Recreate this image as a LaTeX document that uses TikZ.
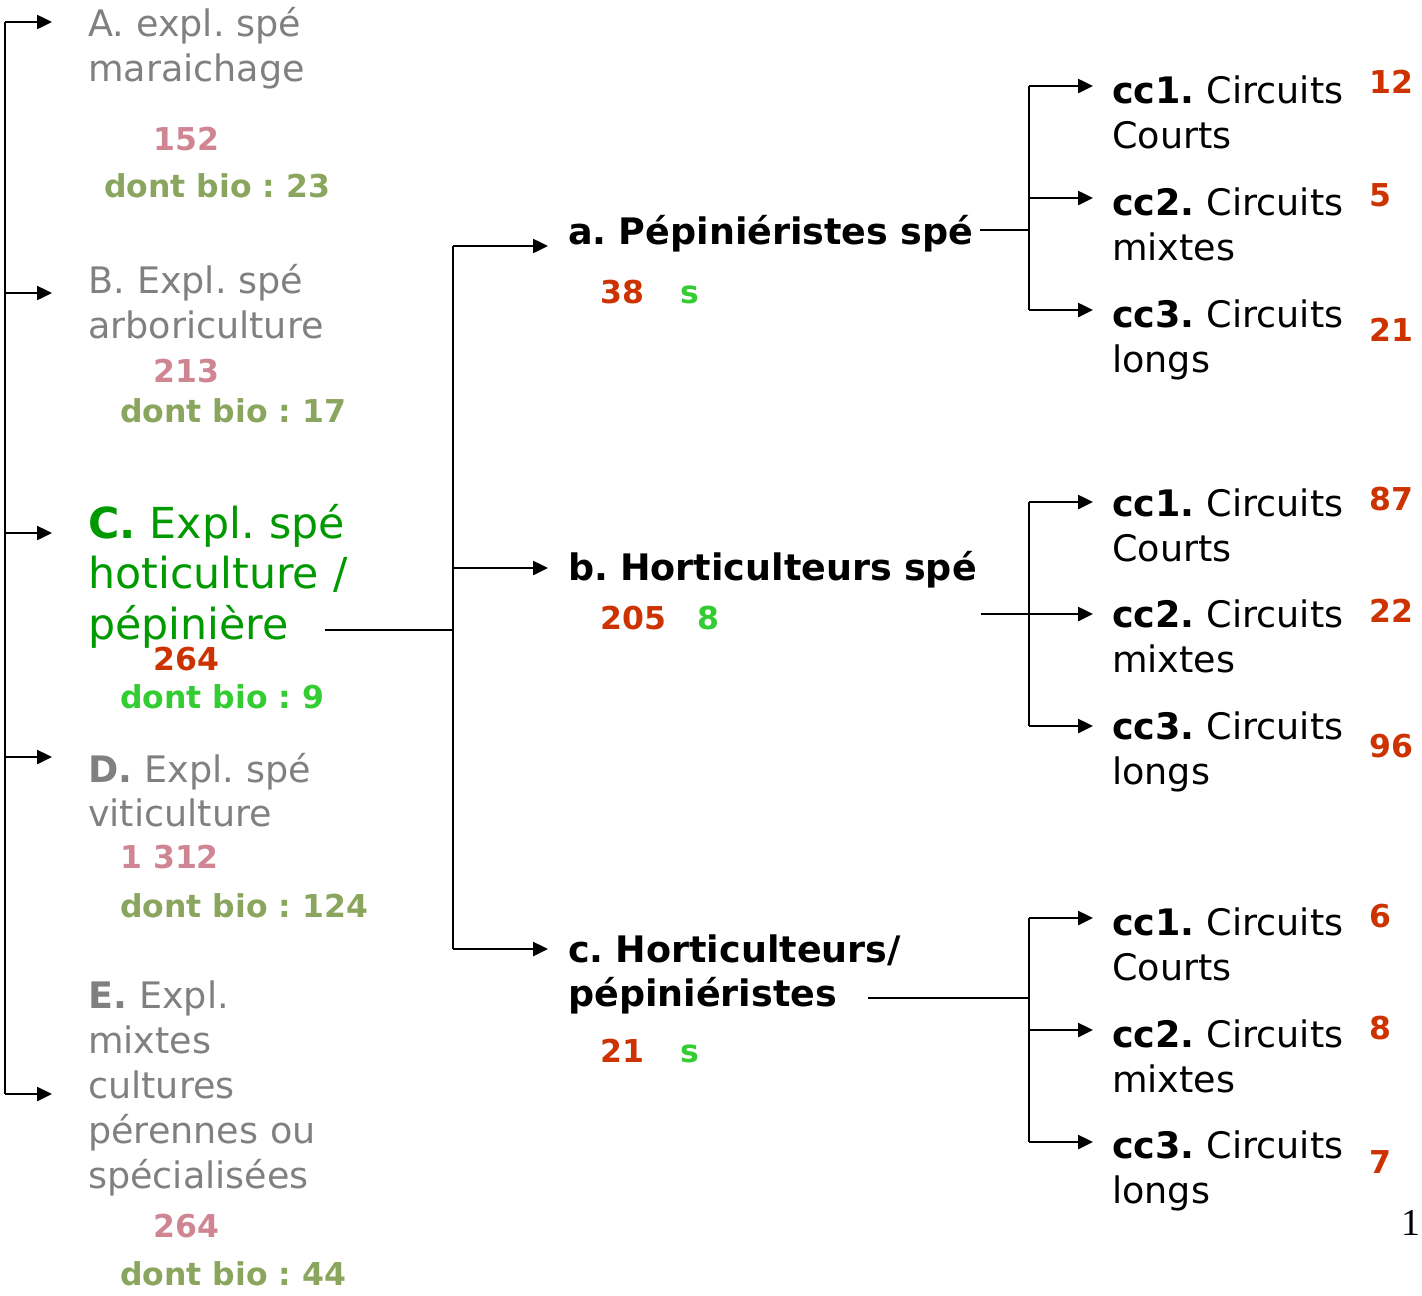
\documentclass[tikz,border=0pt]{standalone}
\usepackage{fontspec}
\setmainfont{DejaVu Sans}
\newfontfamily\numpage{Liberation Serif}
\usetikzlibrary{arrows.meta}
\frenchspacing

\definecolor{gris}{RGB}{128,128,128}
\definecolor{rose}{RGB}{208,134,146}
\definecolor{olive}{RGB}{138,166,94}
\definecolor{vertC}{RGB}{0,153,0}
\definecolor{vertbio}{RGB}{51,204,51}
\definecolor{rouge}{RGB}{204,51,0}

\tikzset{
  texte/.style={anchor=base west, inner sep=0pt, text width=420pt, align=left,
    font=\fontsize{36.5}{45}\selectfont},
  chiffre/.style={anchor=base west, inner sep=0pt, font=\fontsize{31.5}{38}\selectfont\bfseries},
  trait/.style={line width=2.5pt},
  fleche/.style={trait, -{Triangle[length=15pt,width=14pt]}}
}

\begin{document}
\begin{tikzpicture}[x=1pt, y=-1pt]
  \useasboundingbox (0,0) rectangle (1422,1296);

  % Dibujar los textos de la izquierda
  \node[texte, gris] (A) at (88,36) {A. expl. spé\\maraichage};
  \node[chiffre, rose] (nA) at (153,150) {152};
  \node[chiffre, olive] (bA) at (104,197) {dont bio : 23};

  \node[texte, gris] (B) at (88,293) {B. Expl. spé\\arboriculture};
  \node[chiffre, rose] (nB) at (153,382) {213};
  \node[chiffre, olive] (bB) at (120,422) {dont bio : 17};

  \node[texte, vertC, font=\fontsize{42.7}{50.5}\selectfont] (C) at (88,538)
    {\textbf{C.} Expl. spé\\hoticulture /\\pépinière};
  \node[chiffre, rouge] (nC) at (153,670) {264};
  \node[chiffre, vertbio] (bC) at (120,708) {dont bio : 9};

  \node[texte, gris, font=\fontsize{36.5}{44}\selectfont] (D) at (88,782) {\textbf{D.} Expl. spé\\viticulture};
  \node[chiffre, rose] (nD) at (120,868) {1 312};
  \node[chiffre, olive] (bD) at (120,917) {dont bio : 124};

  \node[texte, gris] (E) at (88,1008) {\textbf{E.} Expl.\\mixtes\\cultures\\pérennes ou\\spécialisées};
  \node[chiffre, rose] (nE) at (153,1237) {264};
  \node[chiffre, olive] (bE) at (120,1285) {dont bio : 44};

  % Dibujar los textos del centro
  \node[texte, font=\fontsize{36.5}{45}\selectfont\bfseries] (a) at (568,244) {a. Pépiniéristes spé};
  \node[chiffre, rouge] (na) at (600,303) {38};
  \node[chiffre, vertbio] (sa) at (680,303) {s};

  \node[texte, font=\fontsize{36.5}{45}\selectfont\bfseries] (b) at (568,580) {b. Horticulteurs spé};
  \node[chiffre, rouge] (nb) at (600,629) {205};
  \node[chiffre, vertbio] (sb) at (697,629) {8};

  \node[texte, font=\fontsize{36.5}{44}\selectfont\bfseries] (c) at (568,962) {c. Horticulteurs/\\pépiniéristes};
  \node[chiffre, rouge] (nc) at (600,1062) {21};
  \node[chiffre, vertbio] (sc) at (680,1062) {s};

  % Dibujar los circuitos de la derecha
  \node[texte] (ra1) at (1112,103) {\textbf{cc1.} Circuits\\Courts};
  \node[texte] (ra2) at (1112,215) {\textbf{cc2.} Circuits\\mixtes};
  \node[texte] (ra3) at (1112,327) {\textbf{cc3.} Circuits\\longs};
  \node[chiffre, rouge] (na1) at (1369,93) {12};
  \node[chiffre, rouge] (na2) at (1369,206) {5};
  \node[chiffre, rouge] (na3) at (1369,341) {21};

  \node[texte] (rb1) at (1112,516) {\textbf{cc1.} Circuits\\Courts};
  \node[texte] (rb2) at (1112,627) {\textbf{cc2.} Circuits\\mixtes};
  \node[texte] (rb3) at (1112,739) {\textbf{cc3.} Circuits\\longs};
  \node[chiffre, rouge] (nb1) at (1369,510) {87};
  \node[chiffre, rouge] (nb2) at (1369,622) {22};
  \node[chiffre, rouge] (nb3) at (1369,757) {96};

  \node[texte] (rc1) at (1112,935) {\textbf{cc1.} Circuits\\Courts};
  \node[texte] (rc2) at (1112,1047) {\textbf{cc2.} Circuits\\mixtes};
  \node[texte] (rc3) at (1112,1158) {\textbf{cc3.} Circuits\\longs};
  \node[chiffre, rouge] (nc1) at (1369,927) {6};
  \node[chiffre, rouge] (nc2) at (1369,1039) {8};
  \node[chiffre, rouge] (nc3) at (1369,1173) {7};

  \node[anchor=base east, inner sep=0pt, font=\numpage\fontsize{38}{40}\selectfont] (page) at (1421,1235) {1};

  % Dibujar las flechas de la izquierda
  \coordinate (tronc) at (5,0);
  \coordinate (gA) at (52,22);
  \coordinate (gB) at (52,293);
  \coordinate (gC) at (52,533);
  \coordinate (gD) at (52,757);
  \coordinate (gE) at (52,1094);
  \draw[trait] (gA -| tronc) -- (gE -| tronc);
  \draw[fleche] (gA -| tronc) -- (gA);
  \draw[fleche] (gB -| tronc) -- (gB);
  \draw[fleche] (gC -| tronc) -- (gC);
  \draw[fleche] (gD -| tronc) -- (gD);
  \draw[fleche] (gE -| tronc) -- (gE);

  % Dibujar las flechas del centro
  \coordinate (tronc2) at (453,0);
  \coordinate (sC) at (325,630);
  \coordinate (ga) at (548,246);
  \coordinate (gb) at (548,568);
  \coordinate (gc) at (548,949);
  \draw[trait] (sC) -- (sC -| tronc2);
  \draw[trait] (ga -| tronc2) -- (gc -| tronc2);
  \draw[fleche] (ga -| tronc2) -- (ga);
  \draw[fleche] (gb -| tronc2) -- (gb);
  \draw[fleche] (gc -| tronc2) -- (gc);

  % Dibujar las flechas de la derecha
  \coordinate (tronc3) at (1029,0);
  \coordinate (sa1) at (980,230);
  \coordinate (sb1) at (981,614);
  \coordinate (sc1) at (868,998);
  \coordinate (ha1) at (1093,86);
  \coordinate (ha2) at (1093,198);
  \coordinate (ha3) at (1093,310);
  \coordinate (hb1) at (1093,502);
  \coordinate (hb2) at (1093,614);
  \coordinate (hb3) at (1093,726);
  \coordinate (hc1) at (1093,918);
  \coordinate (hc2) at (1093,1030);
  \coordinate (hc3) at (1093,1142);

  \draw[trait] (sa1) -- (sa1 -| tronc3);
  \draw[trait] (ha1 -| tronc3) -- (ha3 -| tronc3);
  \draw[fleche] (ha1 -| tronc3) -- (ha1);
  \draw[fleche] (ha2 -| tronc3) -- (ha2);
  \draw[fleche] (ha3 -| tronc3) -- (ha3);

  \draw[trait] (hb1 -| tronc3) -- (hb3 -| tronc3);
  \draw[fleche] (hb1 -| tronc3) -- (hb1);
  \draw[fleche] (sb1) -- (hb2);
  \draw[fleche] (hb3 -| tronc3) -- (hb3);

  \draw[trait] (sc1) -- (sc1 -| tronc3);
  \draw[trait] (hc1 -| tronc3) -- (hc3 -| tronc3);
  \draw[fleche] (hc1 -| tronc3) -- (hc1);
  \draw[fleche] (hc2 -| tronc3) -- (hc2);
  \draw[fleche] (hc3 -| tronc3) -- (hc3);
\end{tikzpicture}
\end{document}
